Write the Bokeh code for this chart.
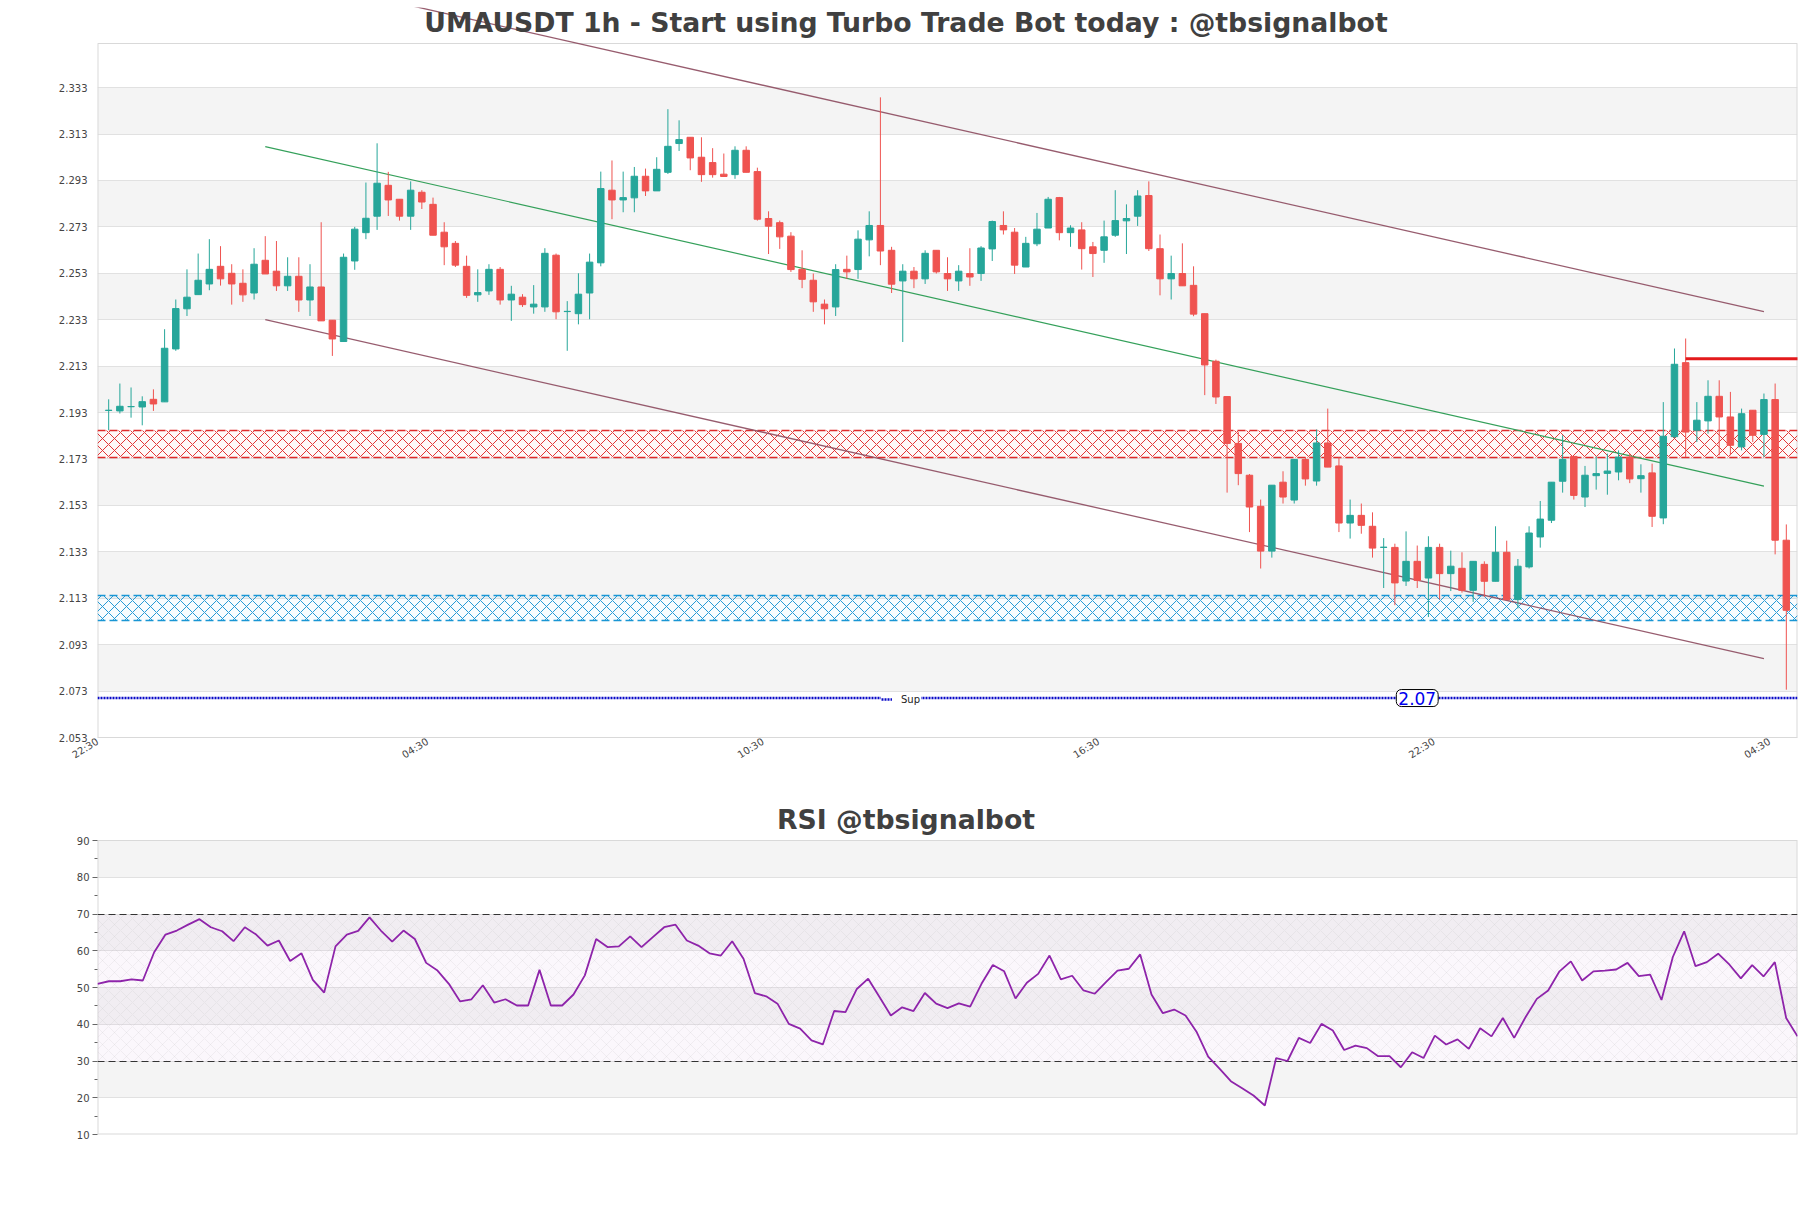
import math
from bokeh.plotting import figure
from bokeh.models import (Range1d, FixedTicker, ColumnDataSource, Label,
                          Legend, LegendItem)
from bokeh.layouts import column
from bokeh.embed import file_html
from bokeh.resources import INLINE

# ---------------- data ----------------
TITLE = "UMAUSDT 1h - Start using Turbo Trade Bot today : @tbsignalbot"
RSI_TITLE = "RSI @tbsignalbot"

OPEN = [2.1939, 2.1937, 2.1955, 2.1954, 2.1987, 2.1976, 2.2204, 2.2377, 2.2438, 2.2484,
        2.2560, 2.2530, 2.2487, 2.2445, 2.2586, 2.2539, 2.2476, 2.2517, 2.2415, 2.2471,
        2.2328, 2.2236, 2.2583, 2.2705, 2.2776, 2.2909, 2.2849, 2.2776, 2.2879, 2.2827,
        2.2707, 2.2659, 2.2560, 2.2437, 2.2454, 2.2547, 2.2415, 2.2427, 2.2385, 2.2385,
        2.2608, 2.2365, 2.2356, 2.2445, 2.2575, 2.2888, 2.2846, 2.2855, 2.2948, 2.2885,
        2.2965, 2.3089, 2.3116, 2.3030, 2.3007, 2.2957, 2.2955, 2.3060, 2.2968, 2.2766,
        2.2748, 2.2690, 2.2547, 2.2500, 2.2397, 2.2385, 2.2547, 2.2546, 2.2674, 2.2736,
        2.2629, 2.2497, 2.2539, 2.2506, 2.2629, 2.2529, 2.2497, 2.2529, 2.2529, 2.2635,
        2.2736, 2.2707, 2.2557, 2.2657, 2.2725, 2.2856, 2.2705, 2.2717, 2.2644, 2.2629,
        2.2694, 2.2756, 2.2776, 2.2865, 2.2636, 2.2506, 2.2529, 2.2478, 2.2356, 2.2151,
        2.1999, 2.1797, 2.1660, 2.1526, 2.1333, 2.1630, 2.1553, 2.1728, 2.1635, 2.1799,
        2.1700, 2.1454, 2.1487, 2.1440, 2.1349, 2.1349, 2.1204, 2.1289, 2.1217, 2.1349,
        2.1236, 2.1259, 2.1164, 2.1276, 2.1203, 2.1328, 2.1124, 2.1265, 2.1394, 2.1466,
        2.1634, 2.1741, 2.1566, 2.1658, 2.1668, 2.1674, 2.1738, 2.1645, 2.1670, 2.1476,
        2.1826, 2.2145, 2.1854, 2.1894, 2.2000, 2.1911, 2.1782, 2.1940, 2.1836, 2.1986,
        2.1380]
HIGH = [2.1987, 2.2055, 2.2038, 2.2000, 2.2030, 2.2289, 2.2417, 2.2547, 2.2615, 2.2677,
        2.2647, 2.2569, 2.2547, 2.2638, 2.2690, 2.2669, 2.2599, 2.2599, 2.2569, 2.2750,
        2.2328, 2.2615, 2.2730, 2.2921, 2.3090, 2.2967, 2.2849, 2.2926, 2.2888, 2.2856,
        2.2750, 2.2669, 2.2606, 2.2547, 2.2569, 2.2557, 2.2476, 2.2440, 2.2479, 2.2638,
        2.2615, 2.2410, 2.2530, 2.2615, 2.2968, 2.3016, 2.2968, 2.2988, 2.2981, 2.3030,
        2.3237, 2.3189, 2.3116, 2.3116, 2.3069, 2.3046, 2.3077, 2.3077, 2.2985, 2.2797,
        2.2757, 2.2707, 2.2629, 2.2529, 2.2417, 2.2569, 2.2606, 2.2715, 2.2797, 2.3288,
        2.2644, 2.2569, 2.2557, 2.2629, 2.2629, 2.2599, 2.2565, 2.2638, 2.2647, 2.2757,
        2.2797, 2.2725, 2.2687, 2.2790, 2.2859, 2.2859, 2.2737, 2.2750, 2.2665, 2.2757,
        2.2888, 2.2827, 2.2888, 2.2926, 2.2697, 2.2606, 2.2659, 2.2560, 2.2356, 2.2158,
        2.2000, 2.1846, 2.1665, 2.1555, 2.1617, 2.1677, 2.1728, 2.1738, 2.1857, 2.1947,
        2.1738, 2.1555, 2.1538, 2.1500, 2.1389, 2.1365, 2.1418, 2.1357, 2.1397, 2.1365,
        2.1335, 2.1328, 2.1289, 2.1289, 2.1440, 2.1378, 2.1299, 2.1440, 2.1549, 2.1630,
        2.1832, 2.1741, 2.1700, 2.1741, 2.1753, 2.1767, 2.1753, 2.1707, 2.1710, 2.1975,
        2.2206, 2.2249, 2.1975, 2.2069, 2.2069, 2.2019, 2.1947, 2.1940, 2.2012, 2.2055,
        2.1448]
LOW = [2.1854, 2.1926, 2.1908, 2.1875, 2.1937, 2.1976, 2.2196, 2.2346, 2.2438, 2.2457,
       2.2477, 2.2395, 2.2407, 2.2417, 2.2527, 2.2454, 2.2454, 2.2364, 2.2346, 2.2325,
       2.2174, 2.2236, 2.2545, 2.2677, 2.2717, 2.2777, 2.2757, 2.2717, 2.2807, 2.2694,
       2.2565, 2.2557, 2.2424, 2.2407, 2.2437, 2.2395, 2.2325, 2.2385, 2.2356, 2.2364,
       2.2332, 2.2196, 2.2310, 2.2332, 2.2560, 2.2763, 2.2793, 2.2793, 2.2863, 2.2885,
       2.2958, 2.3057, 2.2974, 2.2924, 2.2942, 2.2945, 2.2937, 2.2965, 2.2757, 2.2613,
       2.2635, 2.2536, 2.2466, 2.2364, 2.2310, 2.2346, 2.2506, 2.2506, 2.2603, 2.2565,
       2.2445, 2.2234, 2.2466, 2.2484, 2.2529, 2.2454, 2.2454, 2.2476, 2.2497, 2.2583,
       2.2697, 2.2527, 2.2557, 2.2647, 2.2725, 2.2672, 2.2644, 2.2546, 2.2514, 2.2575,
       2.2687, 2.2613, 2.2734, 2.2626, 2.2435, 2.2417, 2.2476, 2.2345, 2.2005, 2.1967,
       2.1585, 2.1617, 2.1415, 2.1258, 2.1305, 2.1538, 2.1538, 2.1615, 2.1615, 2.1695,
       2.1415, 2.1387, 2.1408, 2.1305, 2.1174, 2.1100, 2.1183, 2.1174, 2.1049, 2.1125,
       2.1161, 2.1154, 2.1114, 2.1135, 2.1203, 2.1124, 2.1086, 2.1258, 2.1348, 2.1454,
       2.1585, 2.1555, 2.1523, 2.1598, 2.1576, 2.1638, 2.1626, 2.1585, 2.1437, 2.1449,
       2.1820, 2.1738, 2.1803, 2.1839, 2.1746, 2.1746, 2.1767, 2.1803, 2.1738, 2.1319,
       2.0736]
CLOSE = [2.1940, 2.1957, 2.1956, 2.1977, 2.1967, 2.2207, 2.2378, 2.2427, 2.2500, 2.2547,
         2.2506, 2.2484, 2.2437, 2.2569, 2.2527, 2.2476, 2.2517, 2.2415, 2.2471, 2.2325,
         2.2247, 2.2599, 2.2720, 2.2767, 2.2918, 2.2846, 2.2776, 2.2888, 2.2837, 2.2694,
         2.2644, 2.2565, 2.2435, 2.2447, 2.2547, 2.2415, 2.2440, 2.2395, 2.2397, 2.2616,
         2.2364, 2.2366, 2.2440, 2.2578, 2.2895, 2.2846, 2.2856, 2.2948, 2.2885, 2.2978,
         2.3077, 2.3106, 2.3027, 2.2955, 2.2955, 2.2947, 2.3060, 2.2965, 2.2763, 2.2733,
         2.2687, 2.2546, 2.2504, 2.2407, 2.2377, 2.2546, 2.2536, 2.2677, 2.2736, 2.2626,
         2.2483, 2.2539, 2.2506, 2.2616, 2.2536, 2.2506, 2.2539, 2.2514, 2.2639, 2.2753,
         2.2717, 2.2565, 2.2659, 2.2720, 2.2849, 2.2705, 2.2725, 2.2636, 2.2615, 2.2687,
         2.2757, 2.2766, 2.2863, 2.2636, 2.2506, 2.2529, 2.2476, 2.2354, 2.2135, 2.1997,
         2.1797, 2.1667, 2.1523, 2.1333, 2.1617, 2.1566, 2.1728, 2.1644, 2.1799, 2.1695,
         2.1454, 2.1487, 2.1444, 2.1346, 2.1350, 2.1196, 2.1289, 2.1207, 2.1349, 2.1236,
         2.1268, 2.1164, 2.1289, 2.1203, 2.1328, 2.1124, 2.1268, 2.1411, 2.1471, 2.1630,
         2.1728, 2.1573, 2.1660, 2.1667, 2.1678, 2.1738, 2.1644, 2.1658, 2.1483, 2.1828,
         2.2138, 2.1846, 2.1897, 2.2000, 2.1911, 2.1789, 2.1925, 2.1832, 2.1986, 2.1380,
         2.1078]

RSI = [51.0, 51.7, 51.7, 52.2, 51.9, 59.6, 64.4, 65.5, 67.1, 68.6,
       66.4, 65.3, 62.6, 66.4, 64.4, 61.4, 62.8, 57.2, 59.3, 52.1,
       48.6, 61.2, 64.4, 65.4, 69.1, 65.5, 62.5, 65.5, 63.2, 56.7,
       54.6, 51.0, 46.2, 46.8, 50.6, 45.9, 46.8, 45.1, 45.1, 54.8,
       45.1, 45.1, 48.1, 53.3, 63.2, 61.0, 61.2, 63.9, 61.0, 63.7,
       66.4, 67.1, 62.8, 61.4, 59.3, 58.7, 62.6, 57.8, 48.5, 47.6,
       45.6, 40.1, 38.8, 35.6, 34.5, 43.6, 43.3, 49.6, 52.4, 47.4,
       42.4, 44.6, 43.6, 48.5, 45.6, 44.4, 45.7, 44.8, 51.0, 56.1,
       54.4, 47.0, 51.3, 53.7, 58.7, 52.2, 53.2, 49.2, 48.3, 51.5,
       54.6, 55.1, 59.0, 48.1, 43.0, 44.0, 42.4, 37.8, 31.2, 27.9,
       24.5, 22.6, 20.6, 17.9, 30.8, 30.0, 36.3, 34.9, 40.1, 38.3,
       33.0, 34.2, 33.5, 31.3, 31.3, 28.3, 32.4, 30.8, 36.9, 34.5,
       35.9, 33.3, 38.9, 36.7, 41.7, 36.3, 41.9, 46.9, 49.2, 54.4,
       57.1, 51.9, 54.4, 54.6, 54.9, 56.7, 53.1, 53.5, 46.6, 58.3,
       65.3, 55.8, 56.9, 59.2, 56.2, 52.5, 56.1, 53.0, 56.9, 41.7,
       36.7]

X_TICK_POS = [-1, 28.5, 58.5, 88.5, 118.5, 148.5]
X_TICK_LABELS = ["22:30", "04:30", "10:30", "16:30", "22:30", "04:30"]
Y_TICKS = [2.053, 2.073, 2.093, 2.113, 2.133, 2.153, 2.173, 2.193,
           2.213, 2.233, 2.253, 2.273, 2.293, 2.313, 2.333]
Y_TICK_LABELS = ["2.053", "2.073", "2.093", "2.113", "2.133", "2.153", "2.173", "2.193",
                 "2.213", "2.233", "2.253", "2.273", "2.293", "2.313", "2.333"]
RSI_TICKS = [10, 20, 30, 40, 50, 60, 70, 80, 90]
RSI_MINOR = [15, 25, 35, 45, 55, 65, 75, 85]

CHANNEL_X = [14, 148]
CHANNEL_UPPER = [2.3825, 2.2365]
CHANNEL_MID = [2.3076, 2.1613]
CHANNEL_LOWER = [2.2330, 2.0870]
RES_LINE_X = [141, 152]
RES_LINE_Y = [2.2162, 2.2162]
RED_ZONE = [2.1737, 2.1854]
BLUE_ZONE = [2.1035, 2.1143]
SUP_LEVEL = 2.0700
SUP_TEXT = "2.07"
SUP_LABEL_X = 117
RSI_LOW, RSI_HIGH = 30, 70

# ---------------- layout ----------------
FONT = "DejaVu Sans"
W = 1803
LEFT, RIGHT = 97, 6
FRAME_W = W - LEFT - RIGHT
CENTER_PX = 905.5          # horizontal centre of the titles (canvas px)

MAIN_H, MAIN_TOP, MAIN_BOTTOM = 798, 7, 61
X0, X1 = -1, 151
Y0 = Y_TICKS[0]
VIS_TOP = 2.352            # top edge of the drawn price panel
VIS_H = 694                # pixel height of the drawn price panel
FRAME_H = MAIN_H - MAIN_TOP - MAIN_BOTTOM
PPU = VIS_H / (VIS_TOP - Y0)
Y1 = Y0 + FRAME_H / PPU
TITLE_MID_PX = 21.5        # canvas y of the title's middle

RSI_H, RSI_BOTTOM = 402, 66
RSI_VIS_H = 294
RSI_FRAME_H = RSI_H - RSI_BOTTOM
RSI_PPU = RSI_VIS_H / (RSI_TICKS[-1] - RSI_TICKS[0])
RSI_Y1 = RSI_TICKS[0] + RSI_FRAME_H / RSI_PPU
RSI_TITLE_MID_PX = 21.4

GREEN, RED = "#26a69a", "#ef5350"
TXT = "#444444"
BORDER = "#d9d9d9"

# ---------------- main price chart ----------------
p = figure(width=W, height=MAIN_H, x_range=Range1d(X0, X1), y_range=Range1d(Y0, Y1),
           output_backend="svg", toolbar_location=None, title=None,
           min_border_left=LEFT, min_border_right=RIGHT,
           min_border_top=MAIN_TOP, min_border_bottom=MAIN_BOTTOM)
p.outline_line_color = None
p.background_fill_color = "white"
p.border_fill_color = "white"
p.xgrid.visible = False

p.xaxis.ticker = FixedTicker(ticks=X_TICK_POS)
p.xaxis.major_label_overrides = {t: s for t, s in zip(X_TICK_POS, X_TICK_LABELS)}
p.xaxis.major_label_orientation = math.radians(32)
p.xaxis.axis_line_color = BORDER
p.xaxis.major_tick_line_color = None
p.xaxis.minor_tick_line_color = None
p.xaxis.major_tick_out = 0
p.xaxis.major_label_standoff = 3
p.xaxis.major_label_text_font = FONT
p.xaxis.major_label_text_font_size = "10px"
p.xaxis.major_label_text_color = TXT

p.yaxis.ticker = FixedTicker(ticks=Y_TICKS)
p.yaxis.major_label_overrides = {t: s for t, s in zip(Y_TICKS, Y_TICK_LABELS)}
p.yaxis.axis_line_color = None
p.yaxis.major_tick_line_color = None
p.yaxis.minor_tick_line_color = None
p.yaxis.major_tick_out = 0
p.yaxis.major_label_standoff = 10
p.yaxis.major_label_text_font = FONT
p.yaxis.major_label_text_font_size = "10px"
p.yaxis.major_label_text_color = TXT
p.ygrid.grid_line_color = "#e1e1e1"
p.ygrid.band_fill_color = "#f4f4f4"
p.ygrid.band_fill_alpha = 1.0

# panel border (top, left, right)
bsrc = ColumnDataSource(dict(
    xs=[[X0, X1], [X0, X0], [X1, X1]],
    ys=[[VIS_TOP, VIS_TOP], [Y0, VIS_TOP], [Y0, VIS_TOP]],
    lw=[1, 2, 2]))
p.multi_line(xs="xs", ys="ys", line_width="lw", line_color=BORDER, source=bsrc)

# zones
p.hstrip(y0=[RED_ZONE[0]], y1=[RED_ZONE[1]], fill_color="#e53935", fill_alpha=0.03,
         hatch_pattern="x", hatch_color="#e02a2a", hatch_scale=12, hatch_weight=1.0,
         hatch_alpha=0.95, line_color=None)
p.hspan(y=RED_ZONE, line_color="#e02a2a", line_dash="8 4", line_width=1.5)
p.hstrip(y0=[BLUE_ZONE[0]], y1=[BLUE_ZONE[1]], fill_color="#1e9bd8", fill_alpha=0.03,
         hatch_pattern="x", hatch_color="#1a96d4", hatch_scale=12, hatch_weight=1.0,
         hatch_alpha=0.95, line_color=None)
p.hspan(y=BLUE_ZONE, line_color="#1a96d4", line_dash="8 4", line_width=1.5)

# channel lines
p.line(CHANNEL_X, CHANNEL_UPPER, line_color="#8c4a5e", line_width=1.3, line_alpha=0.9)
p.line(CHANNEL_X, CHANNEL_LOWER, line_color="#8c4a5e", line_width=1.3, line_alpha=0.9)
p.line(CHANNEL_X, CHANNEL_MID, line_color="#34a05a", line_width=1.2)

# candles
n = len(OPEN)
colors = [GREEN if CLOSE[i] >= OPEN[i] else RED for i in range(n)]
csrc = ColumnDataSource(dict(
    x=list(range(n)), high=HIGH, low=LOW,
    top=[max(OPEN[i], CLOSE[i]) for i in range(n)],
    bottom=[min(OPEN[i], CLOSE[i]) for i in range(n)],
    color=colors))
p.segment(x0="x", y0="low", x1="x", y1="high", line_color="color", line_width=1, source=csrc)
p.vbar(x="x", width=0.58, top="top", bottom="bottom", fill_color="color",
       line_color="color", line_width=1, source=csrc)

# resistance marker line
p.line(RES_LINE_X, RES_LINE_Y, line_color="#e31a1c", line_width=3)

# support line + legend + value label
sup_r = p.line([X0, X1], [SUP_LEVEL, SUP_LEVEL], line_color="#0a0ac8", line_width=2.5,
               line_dash="2 1")
legend = Legend(items=[LegendItem(label="Sup", renderers=[sup_r])],
                location=(784, 32), margin=0, padding=5, spacing=0,
                glyph_width=11, glyph_height=12, label_height=12, label_standoff=9,
                label_text_font=FONT, label_text_font_size="10px", label_text_color="#222222",
                border_line_color=None, background_fill_color="white", background_fill_alpha=1)
p.add_layout(legend)
p.add_layout(Label(x=SUP_LABEL_X, y=SUP_LEVEL, text=SUP_TEXT, text_align="center",
                   text_baseline="middle", text_font=FONT, text_font_size="17px",
                   text_color="#0000ee", background_fill_color="white",
                   border_line_color="black", border_line_width=1, border_radius=5,
                   padding=2))

# title (inside the extended frame)
title_x = X0 + (CENTER_PX - LEFT) * (X1 - X0) / FRAME_W
title_y = Y1 - (TITLE_MID_PX - MAIN_TOP) / PPU
p.add_layout(Label(x=title_x, y=title_y, text=TITLE, text_align="center",
                   text_baseline="middle", text_font=FONT, text_font_style="bold",
                   text_font_size="26.7px", text_color="#404040"))

# ---------------- RSI chart ----------------
RX1 = len(RSI) - 1
RY0, RY9 = RSI_TICKS[0], RSI_TICKS[-1]
r = figure(width=W, height=RSI_H, x_range=Range1d(0, RX1), y_range=Range1d(RY0, RSI_Y1),
           output_backend="svg", toolbar_location=None, title=None,
           min_border_left=LEFT, min_border_right=RIGHT,
           min_border_top=0, min_border_bottom=RSI_BOTTOM)
r.outline_line_color = None
r.background_fill_color = "white"
r.border_fill_color = "white"
r.xaxis.visible = False
r.xgrid.visible = False
r.yaxis.ticker = FixedTicker(ticks=RSI_TICKS, minor_ticks=RSI_MINOR)
r.yaxis.axis_line_color = None
r.yaxis.major_tick_line_color = "#666666"
r.yaxis.minor_tick_line_color = "#666666"
r.yaxis.major_tick_in = 0
r.yaxis.major_tick_out = 5
r.yaxis.minor_tick_in = 0
r.yaxis.minor_tick_out = 3
r.yaxis.major_label_standoff = 3
r.yaxis.major_label_text_font = FONT
r.yaxis.major_label_text_font_size = "10px"
r.yaxis.major_label_text_color = TXT
r.ygrid.grid_line_color = "#e1e1e1"
r.ygrid.band_fill_color = "#f4f4f4"
r.ygrid.band_fill_alpha = 1.0

rb = ColumnDataSource(dict(
    xs=[[0, RX1], [0, 0], [RX1, RX1], [0, RX1]],
    ys=[[RY9, RY9], [RY0, RY9], [RY0, RY9], [RY0, RY0]],
    lw=[1, 2, 2, 2]))
r.multi_line(xs="xs", ys="ys", line_width="lw", line_color=BORDER, source=rb)

r.hstrip(y0=[RSI_LOW], y1=[RSI_HIGH], fill_color="#d9b3e6", fill_alpha=0.10,
         hatch_pattern="x", hatch_color="#b8b8b8", hatch_alpha=0.35, hatch_scale=12,
         hatch_weight=0.5, line_color=None)
r.hspan(y=[RSI_LOW, RSI_HIGH], line_color="#333333", line_dash="7 4", line_width=1.2)
r.line(list(range(len(RSI))), RSI, line_color="#8e24aa", line_width=1.8)

rt_x = (CENTER_PX - LEFT) * RX1 / FRAME_W
rt_y = RSI_Y1 - RSI_TITLE_MID_PX / RSI_PPU
r.add_layout(Label(x=rt_x, y=rt_y, text=RSI_TITLE, text_align="center",
                   text_baseline="middle", text_font=FONT, text_font_style="bold",
                   text_font_size="26.7px", text_color="#404040"))

layout = column(p, r, spacing=0)
open("out.html", "w").write(file_html(layout, INLINE))
